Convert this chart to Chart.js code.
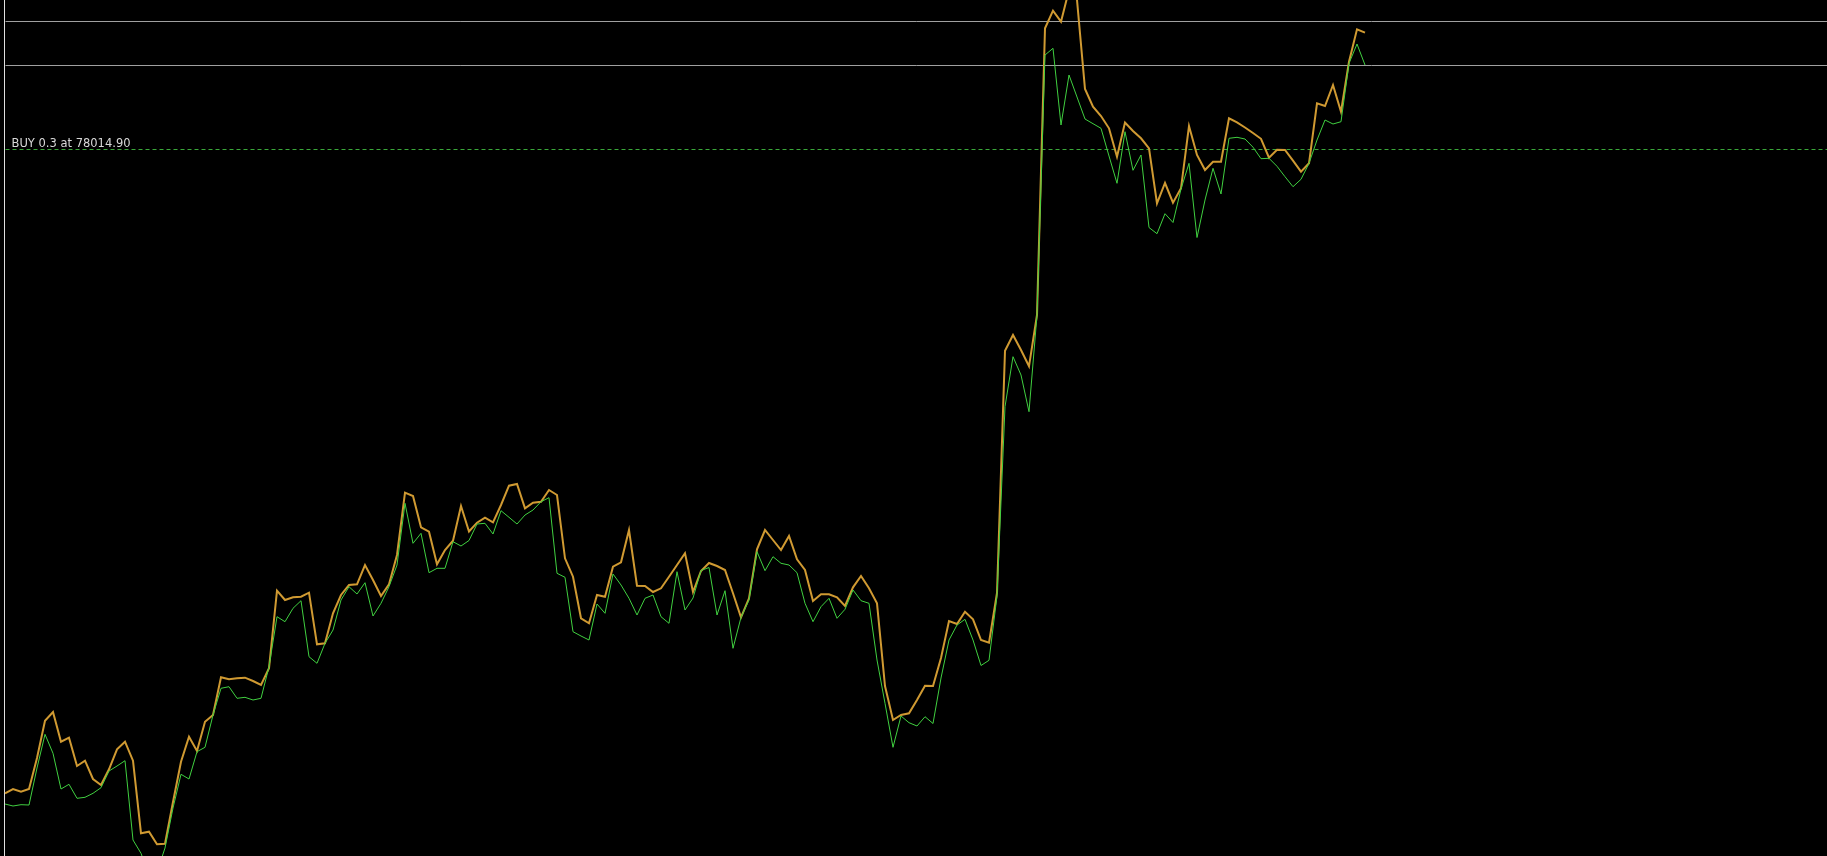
<!DOCTYPE html>
<html>
<head>
<meta charset="utf-8">
<title>BTCUSD tick chart</title>
<script src="https://cdn.jsdelivr.net/npm/chart.js@4.4.1/dist/chart.umd.min.js"></script>
<style>
    html, body { margin: 0; padding: 0; background: #000; overflow: hidden; }
    canvas { display: block; }
</style>
</head>
<body>
<canvas id="tickChart" width="1827" height="856"></canvas>
<script>
// Tick chart - ask (orange) and bid (green), one value per tick
const askPrices = [
    77370.9, 77375.2, 77372.5, 77375.2, 77406.2, 77443.5, 77452.2, 77422.5, 77426.5, 77398.2,
    77403.5, 77385.2, 77379.2, 77394.9, 77414.9, 77422.5, 77403.5, 77330.9, 77332.5, 77319.9,
    77320.5, 77362.2, 77402.5, 77427.5, 77413.2, 77442.5, 77449.2, 77486.9, 77484.9, 77485.9,
    77486.5, 77483.2, 77479.2, 77495.9, 77573.5, 77564.2, 77566.9, 77567.5, 77571.5, 77519.9,
    77520.9, 77550.9, 77569.2, 77579.2, 77579.9, 77599.2, 77584.2, 77568.2, 77579.9, 77609.2,
    77671.5, 77668.2, 77636.9, 77632.5, 77599.9, 77614.2, 77623.5, 77658.2, 77632.7, 77641.5,
    77646.5, 77641.9, 77659.2, 77678.5, 77680.2, 77655.9, 77661.5, 77662.5, 77674.2, 77669.2,
    77605.9, 77587.5, 77545.9, 77540.9, 77569.2, 77567.5, 77597.5, 77601.9, 77634.2, 77578.5,
    77578.2, 77572.2, 77575.9, 77587.5, 77599.2, 77610.9, 77572.2, 77593.2, 77601.2, 77598.2,
    77594.2, 77570.9, 77546.9, 77565.9, 77614.9, 77634.2, 77624.2, 77614.2, 77628.2, 77604.9,
    77594.2, 77563.2, 77569.9, 77569.9, 77566.9, 77558.2, 77576.9, 77588.2, 77575.9, 77560.9,
    77478.2, 77444.2, 77449.2, 77450.9, 77464.2, 77478.5, 77478.2, 77506.2, 77543.2, 77540.2,
    77552.5, 77544.9, 77524.2, 77521.5, 77571.2, 77813.5, 77829.2, 77814.2, 77797.9, 77849.2,
    78135.9, 78153.5, 78142.5, 78174.2, 78164.2, 78075.2, 78057.5, 78048.2, 78035.9, 78007.5,
    78041.7, 78033.2, 78025.9, 78015.9, 77960.9, 77981.2, 77961.5, 77975.9, 78038.2, 78009.2,
    77994.2, 78002.5, 78002.5, 78045.9, 78041.9, 78036.7, 78031.2, 78025.4, 78006.5, 78014.5,
    78014.2, 78003.5, 77992.5, 78000.9, 78060.9, 78058.2, 78079.2, 78052.5, 78102.5, 78134.9,
    78131.5
];
const bidPrices = [
    77360.2, 77358.2, 77359.5, 77359.2, 77396.2, 77429.9, 77410.9, 77375.2, 77379.9, 77365.9,
    77366.9, 77370.9, 77376.5, 77393.2, 77398.2, 77403.5, 77324.2, 77310.9, 77289.2, 77292.2,
    77316.2, 77356.2, 77389.9, 77385.2, 77412.5, 77416.9, 77449.2, 77475.9, 77477.5, 77465.9,
    77466.9, 77464.2, 77465.9, 77497.5, 77547.5, 77542.5, 77555.9, 77563.5, 77507.5, 77500.9,
    77520.9, 77534.2, 77564.2, 77577.5, 77570.2, 77581.5, 77548.2, 77560.9, 77577.5, 77599.2,
    77660.9, 77620.9, 77630.9, 77591.5, 77595.9, 77595.9, 77622.5, 77618.2, 77623.7, 77640.2,
    77640.9, 77630.2, 77653.5, 77646.9, 77640.2, 77649.2, 77654.2, 77662.5, 77666.5, 77590.9,
    77586.9, 77532.5, 77528.2, 77524.2, 77560.2, 77550.9, 77590.2, 77579.2, 77565.9, 77549.2,
    77565.9, 77569.2, 77547.5, 77540.9, 77592.5, 77554.2, 77566.2, 77593.7, 77596.7, 77549.2,
    77573.5, 77515.9, 77546.9, 77564.2, 77612.5, 77593.5, 77607.5, 77600.9, 77599.2, 77591.5,
    77560.9, 77542.5, 77557.5, 77565.9, 77545.9, 77554.9, 77574.2, 77563.5, 77560.9, 77504.2,
    77460.9, 77416.9, 77448.2, 77441.5, 77438.2, 77447.5, 77440.7, 77486.2, 77524.2, 77539.2,
    77544.9, 77524.2, 77498.7, 77503.9, 77568.2, 77757.5, 77807.5, 77789.2, 77752.5, 77849.2,
    78109.2, 78115.9, 78039.2, 78089.2, 78067.2, 78045.2, 78040.5, 78035.9, 78008.2, 77980.9,
    78032.5, 77993.9, 78009.2, 77936.7, 77930.5, 77950.5, 77941.7, 77975.2, 78000.9, 77926.7,
    77964.2, 77995.9, 77970.2, 78025.9, 78026.9, 78025.2, 78017.0, 78005.5, 78005.9, 77997.9,
    77987.5, 77977.5, 77984.9, 78000.9, 78024.2, 78044.2, 78040.2, 78042.5, 78100.9, 78120.2,
    78099.2
];

// Horizontal levels (grey) and the open position (green dashed)
const levelPrices = [78142.9, 78098.9];
const buyPrice = 78014.90;
const buyLabel = 'BUY 0.3 at 78014.90';

// Visible window of the chart
const priceMin = 77308.2;
const priceMax = 78164.2;
const tickMin = -0.625;
const tickMax = 227.75;

function toPoints(prices) {
    return prices.map((p, i) => ({ x: i, y: p }));
}

// Background, left border, level lines and the trade label
const decorPlugin = {
    id: 'decor',
    beforeDraw(chart) {
        const ctx = chart.ctx;
        ctx.save();
        ctx.fillStyle = '#000000';
        ctx.fillRect(0, 0, chart.width, chart.height);
        ctx.restore();
    },
    beforeDatasetsDraw(chart) {
        const ctx = chart.ctx;
        const yScale = chart.scales.y;
        const left = 4.5;
        const right = chart.width;

        ctx.save();
        ctx.lineWidth = 1;

        // left border
        ctx.strokeStyle = '#e0e0e0';
        ctx.beginPath();
        ctx.moveTo(left, 0);
        ctx.lineTo(left, chart.height);
        ctx.stroke();

        // grey levels
        ctx.strokeStyle = '#a0a0a0';
        levelPrices.forEach(p => {
            const y = Math.round(yScale.getPixelForValue(p)) + 0.5;
            ctx.beginPath();
            ctx.moveTo(left + 1, y);
            ctx.lineTo(right, y);
            ctx.stroke();
        });

        // buy line
        const by = Math.round(yScale.getPixelForValue(buyPrice)) + 0.5;
        ctx.strokeStyle = '#3aa83a';
        ctx.setLineDash([4, 3]);
        ctx.beginPath();
        ctx.moveTo(left + 1, by);
        ctx.lineTo(right, by);
        ctx.stroke();
        ctx.setLineDash([]);

        ctx.fillStyle = '#d8d8d8';
        ctx.font = '11.5px "DejaVu Sans"';
        ctx.textBaseline = 'alphabetic';
        ctx.fillText(buyLabel, left + 7, by - 3);
        ctx.restore();
    }
};

document.addEventListener('DOMContentLoaded', function () {
    const canvas = document.getElementById('tickChart');
    new Chart(canvas, {
        type: 'line',
        data: {
            datasets: [{
                label: 'Bid',
                data: toPoints(bidPrices),
                borderColor: '#40d040',
                borderWidth: 1,
                pointRadius: 0,
                tension: 0
            },
            {
                label: 'Ask',
                data: toPoints(askPrices),
                borderColor: '#d09a32',
                borderWidth: 2,
                pointRadius: 0,
                tension: 0
            }
            ]
        },
        options: {
            responsive: false,
            animation: false,
            devicePixelRatio: 1,
            layout: { padding: 0 },
            plugins: {
                legend: { display: false },
                tooltip: { enabled: false }
            },
            scales: {
                x: { type: 'linear', min: tickMin, max: tickMax, display: false },
                y: { type: 'linear', min: priceMin, max: priceMax, display: false }
            }
        },
        plugins: [decorPlugin]
    });
});
</script>
</body>
</html>
